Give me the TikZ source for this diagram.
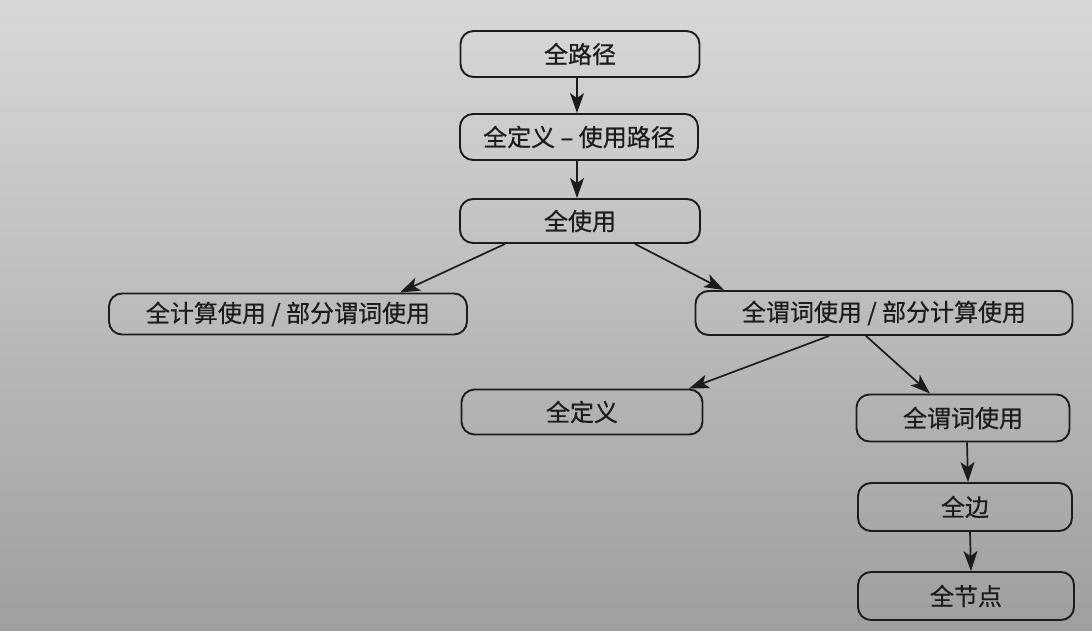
\documentclass[tikz,border=0pt]{standalone}
\usepackage{fontspec}
\newfontfamily\cjk[FakeBold=0.6]{Noto Sans CJK SC}
\usetikzlibrary{arrows.meta,calc}
\definecolor{papertop}{RGB}{216,216,218}
\definecolor{papermid}{RGB}{200,200,202}
\definecolor{paperbot}{RGB}{160,158,158}
\definecolor{ink}{RGB}{28,28,28}
\begin{document}
\begin{tikzpicture}[x=1pt,y=-1pt,
  box/.style={draw=ink, line width=1.9pt, rounded corners=13pt, inner sep=0pt,
    font=\cjk\fontsize{24}{26}\selectfont, text=ink},
  arr/.style={draw=ink, line width=1.7pt, -{Stealth[length=20pt,width=14pt,inset=5pt]}}]
\shade[top color=papertop, middle color=papermid, bottom color=paperbot] (0,0) rectangle (1092,631);
\useasboundingbox (0,0) rectangle (1092,631);
\node[box, minimum width=239pt, minimum height=46pt] (p) at (580,54) {全路径};
\node[box, minimum width=238pt, minimum height=46pt] (dup) at (579,137) {全定义 – 使用路径};
\node[box, minimum width=240pt, minimum height=44pt] (u) at (580,221) {全使用};
\node[box, minimum width=358pt, minimum height=41pt] (cu) at (288,314) {全计算使用 / 部分谓词使用};
\node[box, minimum width=377pt, minimum height=44pt] (pu) at (884,313) {全谓词使用 / 部分计算使用};
\node[box, minimum width=241pt, minimum height=45pt] (d) at (582,412) {全定义};
\node[box, minimum width=213pt, minimum height=47pt] (apu) at (963,418) {全谓词使用};
\node[box, minimum width=214pt, minimum height=48pt] (e) at (965,507) {全边};
\node[box, minimum width=216pt, minimum height=48pt] (n) at (966,596) {全节点};
\draw[arr] ($(p.south)+(-3,0)$) -- ($(dup.north)+(-2,0)$);
\draw[arr] ($(dup.south)+(-2,0)$) -- ($(u.north)+(-3,0)$);
\draw[arr] ($(u.south)+(-75,0)$) -- ($(cu.north)+(112,0)$);
\draw[arr] ($(u.south)+(55,0)$) -- ($(pu.north)+(-160,0)$);
\draw[arr] ($(pu.south)+(-55,0)$) -- ($(d.north)+(107,0)$);
\draw[arr] ($(pu.south)+(-18,0)$) -- ($(apu.north)+(-33,0)$);
\draw[arr] ($(apu.south)+(4,0)$) -- ($(e.north)+(3,0)$);
\draw[arr] ($(e.south)+(5,0)$) -- ($(n.north)+(5,0)$);
\end{tikzpicture}
\end{document}
